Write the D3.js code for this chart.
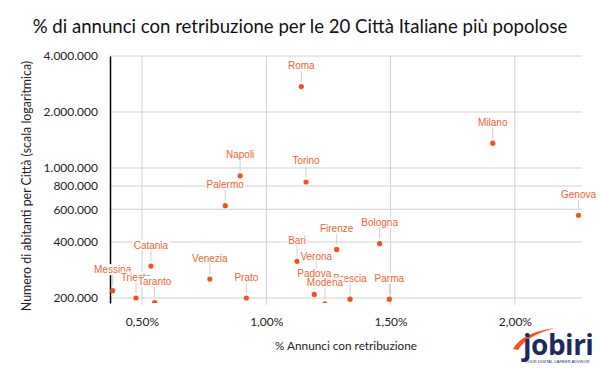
<!DOCTYPE html>
<html>
<head>
<meta charset="utf-8">
<script src="https://cdn.jsdelivr.net/npm/d3@7"></script>
<style>
  body { margin: 0; background: #fff; }
  svg { display: block; }
</style>
</head>
<body>
<div id="chart"></div>
<script>
// city data
const cities = ["Roma", "Milano", "Napoli", "Torino", "Palermo", "Genova", "Bologna", "Firenze", "Bari", "Catania",
  "Venezia", "Verona", "Messina", "Padova", "Trieste", "Brescia", "Parma", "Taranto", "Prato", "Modena"];
const pctPaid = [1.141, 1.911, 0.895, 1.160, 0.835, 2.256, 1.456, 1.283, 1.124, 0.536,
  0.773, 1.201, 0.382, 1.193, 0.476, 1.337, 1.495, 0.551, 0.920, 1.236];
const population = [2740000, 1360000, 907000, 841000, 627000, 557000, 392000, 365000, 315000, 297000,
  253000, 258000, 219000, 209000, 200000, 197000, 197000, 189000, 200000, 186000];

const yTicks = [4000000, 2000000, 1000000, 800000, 600000, 400000, 200000];
const xTicks = [0.5, 1.0, 1.5, 2.0];

const width = 600, height = 371;
const margin = {top: 56, right: 18, bottom: 68, left: 110};

const svg = d3.select("#chart").append("svg")
  .attr("width", width).attr("height", height);

const x = d3.scaleLinear().domain([0.3715, 2.27]).range([margin.left, width - margin.right]);
const y = d3.scaleLog().domain([188000, 4000000]).range([height - margin.bottom, margin.top]);

const fmtInt = d => d3.format(",")(d).replace(/,/g, ".");
const fmtPct = d => d3.format(".2f")(d).replace(".", ",") + "%";

// title
svg.append("text")
  .attr("x", 300).attr("y", 33)
  .attr("text-anchor", "middle")
  .attr("font-family", "Lato, 'Open Sans', sans-serif")
  .attr("font-size", 18.6)
  .attr("fill", "#111")
  .text("% di annunci con retribuzione per le 20 Città Italiane più popolose");

// gridlines
svg.append("g")
  .selectAll("line").data(yTicks).enter().append("line")
  .attr("x1", margin.left).attr("x2", width - margin.right)
  .attr("y1", d => y(d)).attr("y2", d => y(d))
  .attr("stroke", "#d0d0d0").attr("stroke-width", 1);

svg.append("g")
  .selectAll("line").data(xTicks).enter().append("line")
  .attr("x1", d => x(d)).attr("x2", d => x(d))
  .attr("y1", margin.top).attr("y2", height - margin.bottom + 2)
  .attr("stroke", "#d0d0d0").attr("stroke-width", 1);

// y axis
const yAxis = svg.append("g")
  .attr("transform", `translate(${margin.left},0)`)
  .call(d3.axisLeft(y).tickValues(yTicks).tickFormat(fmtInt).tickSize(0).tickPadding(12));
yAxis.select(".domain").attr("stroke", "#000").attr("stroke-width", 1.5);
yAxis.selectAll("text")
  .attr("font-family", "Lato, 'Open Sans', sans-serif")
  .attr("font-size", 12).attr("fill", "#222");

// x axis labels
const xAxis = svg.append("g")
  .attr("transform", `translate(0,${height - margin.bottom})`)
  .call(d3.axisBottom(x).tickValues(xTicks).tickFormat(fmtPct).tickSize(0).tickPadding(14));
xAxis.select(".domain").remove();
xAxis.selectAll("text")
  .attr("font-family", "Lato, 'Open Sans', sans-serif")
  .attr("font-size", 12).attr("fill", "#222");

// axis titles
svg.append("text")
  .attr("transform", "translate(31,186) rotate(-90)")
  .attr("text-anchor", "middle")
  .attr("font-family", "Lato, 'Open Sans', sans-serif")
  .attr("font-size", 12.4).attr("fill", "#222")
  .text("Numero di abitanti per Città (scala logaritmica)");

svg.append("text")
  .attr("x", 346).attr("y", 350)
  .attr("text-anchor", "middle")
  .attr("font-family", "Lato, 'Open Sans', sans-serif")
  .attr("font-size", 11.8).attr("fill", "#222")
  .text("% Annunci con retribuzione");

// points and labels
const data = cities.map((c, i) => ({name: c, x: pctPaid[i], y: population[i]}));

svg.append("clipPath").attr("id", "plotclip")
  .append("rect")
  .attr("x", margin.left).attr("y", margin.top - 30)
  .attr("width", width - margin.left).attr("height", height - margin.bottom - margin.top + 30);

const plot = svg.append("g").attr("clip-path", "url(#plotclip)");

plot.selectAll("circle").data(data).enter().append("circle")
  .attr("cx", d => x(d.x)).attr("cy", d => y(d.y))
  .attr("r", 2.6).attr("fill", "#f4511e");

// leader lines
svg.append("g").selectAll("line").data(data).enter().append("line")
  .attr("x1", d => x(d.x)).attr("x2", d => x(d.x))
  .attr("y1", d => y(d.y) - 16).attr("y2", d => y(d.y) - 5)
  .attr("stroke", "#cfcfcf").attr("stroke-width", 1);

const labels = svg.append("g").selectAll("g").data(data).enter().append("g")
  .attr("transform", d => `translate(${x(d.x)},${y(d.y) - 21})`);

labels.each(function(d) {
  const g = d3.select(this);
  const t = g.append("text")
    .attr("text-anchor", "middle")
    .attr("dy", "0.35em")
    .attr("font-family", "'Liberation Sans', Arial, sans-serif")
    .attr("font-size", 10)
    .attr("fill", "#f26232")
    .text(d.name);
  const b = t.node().getBBox();
  g.insert("rect", "text")
    .attr("x", b.x - 1).attr("y", b.y)
    .attr("width", b.width + 2).attr("height", b.height)
    .attr("fill", "#fff");
});

// logo
const logo = svg.append("g").attr("transform", "translate(513,328)");
logo.append("path")
  .attr("d", "M0,21 C6,10 20,3 42,0 C24,5 12,11 5,22 Z")
  .attr("fill", "#f4511e");
logo.append("text")
  .attr("x", 10).attr("y", 27)
  .attr("font-family", "'Open Sans', sans-serif")
  .attr("font-weight", "bold")
  .attr("font-size", 28)
  .attr("letter-spacing", -0.5)
  .attr("fill", "#1d2a5c")
  .text("jobiri");
logo.append("text")
  .attr("x", 12).attr("y", 35)
  .attr("font-family", "'Liberation Sans', sans-serif")
  .attr("font-size", 4)
  .attr("fill", "#1d2a5c")
  .text("YOUR DIGITAL CAREER ADVISOR");
</script>
</body>
</html>
